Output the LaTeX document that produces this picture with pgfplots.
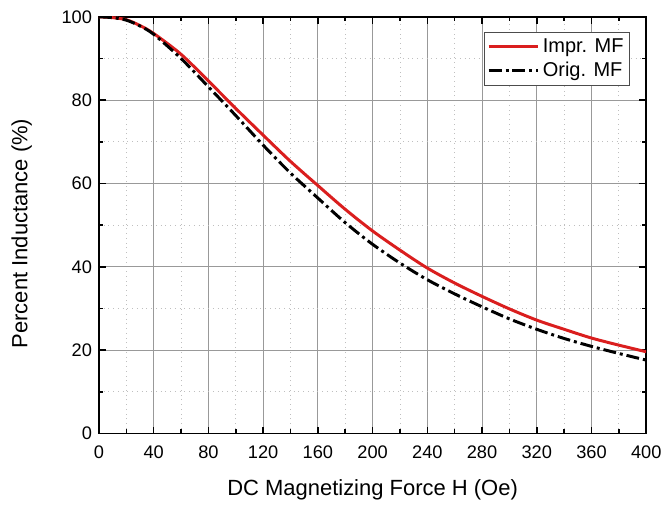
\documentclass[border=0pt]{standalone}
\usepackage{pgfplots}
\pgfplotsset{compat=1.18}
\usepackage{fontspec}
\setmainfont{Liberation Sans}
\definecolor{redline}{RGB}{218,30,30}
\begin{document}
\begin{tikzpicture}
\begin{axis}[
  scale only axis, width=276.5pt, height=210.5pt,
  xmin=0, xmax=400, ymin=0, ymax=100,
  xtick={0,40,...,400}, ytick={0,20,...,100},
  minor x tick num=1, minor y tick num=1,
  grid=both,
  major grid style={black!40, line width=0.4pt},
  minor grid style={black!25, dotted, line width=0.4pt},
  tick align=inside, tick pos=both,
  major tick length=3.5pt, minor tick length=2pt,
  axis line style={line width=0.9pt},
  every tick/.style={black, line width=0.8pt},
  tick label style={font=\fontsize{9.2}{11}\selectfont},
  xticklabel style={yshift=-2.5pt},
  /pgf/number format/assume math mode=true,
  xlabel={DC Magnetizing Force H (Oe)},
  ylabel={Percent Inductance (\%)},
  every axis x label/.style={at={(axis description cs:0.5,0)}, anchor=center, yshift=-28.5pt, font=\fontsize{11.1}{13}\selectfont},
  every axis y label/.style={at={(axis description cs:0,0.48)}, anchor=center, rotate=90, yshift=39pt, font=\fontsize{11.1}{13}\selectfont},
  legend style={anchor=north east, at={(rel axis cs:0.9705,0.9637)}, draw=black!70, line width=0.4pt, font=\fontsize{10.1}{12}\selectfont, inner sep=1.5pt, row sep=0pt, nodes={inner sep=1.6pt}},
  legend cell align=left,
  legend image code/.code={\draw[#1] (0pt,0pt) -- (25pt,0pt);},
]
\addplot[redline, line width=1.5pt, smooth] coordinates {
(0,100) (10,99.8) (20,99.3) (30,97.9) (40,96) (60,91) (80,84.6) (100,78) (120,71.6) (140,65.3) (160,59.5) (180,53.8) (200,48.6) (220,44) (240,39.7) (260,36.1) (280,32.9) (300,29.9) (320,27.2) (340,25) (360,22.9) (380,21.2) (400,19.6)};
\addlegendentry{Impr. MF}
\addplot[black, line width=1.5pt, smooth, dash pattern=on 6.5pt off 2pt on 1.5pt off 2pt] coordinates {
(0,100) (10,99.8) (20,99.2) (30,97.8) (40,95.8) (60,90) (80,83.2) (100,76.3) (120,69.2) (140,62.5) (160,56.5) (180,50.6) (200,45.4) (220,40.9) (240,36.9) (260,33.5) (280,30.4) (300,27.5) (320,25) (340,22.8) (360,20.9) (380,19.2) (400,17.6)};
\addlegendentry{Orig. MF}
\end{axis}
\path[use as bounding box] (-50pt,-32.5pt) rectangle (284pt,219pt);
\end{tikzpicture}
\end{document}
